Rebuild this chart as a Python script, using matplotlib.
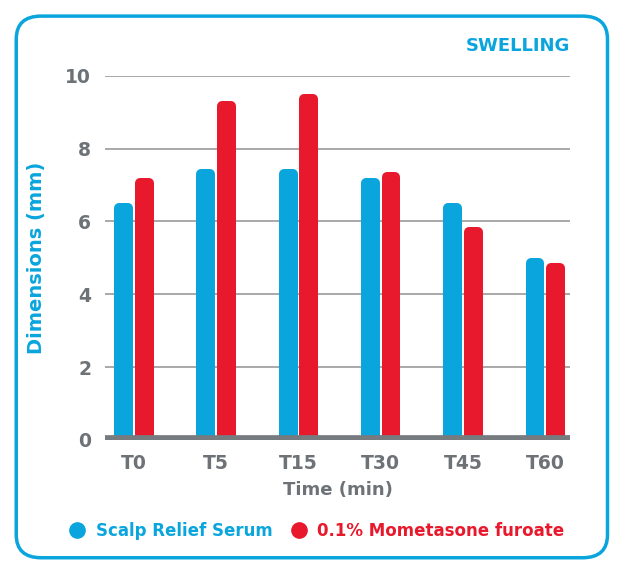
import matplotlib.pyplot as plt
from matplotlib.patches import FancyBboxPatch
from matplotlib.lines import Line2D

# --- data ---
categories = ["T0", "T5", "T15", "T30", "T45", "T60"]
scalp_relief = [6.5, 7.45, 7.45, 7.2, 6.5, 5.0]
mometasone = [7.2, 9.3, 9.5, 7.35, 5.85, 4.85]
series_names = ["Scalp Relief Serum", "0.1% Mometasone furoate"]

BLUE = "#0aa5dd"
RED = "#e8192c"
GRAY = "#6d7277"

fig = plt.figure(figsize=(6.25, 5.75), dpi=100)
plt.rcParams['font.family'] = ['DejaVu Sans']

# rounded frame around the whole chart
frame = FancyBboxPatch((0.026, 0.03), 0.946, 0.942,
                       boxstyle="round,pad=0,rounding_size=0.04",
                       transform=fig.transFigure, fill=False,
                       edgecolor=BLUE, linewidth=2.5)
fig.patches.append(frame)

ax = fig.add_axes([0.168, 0.235, 0.744, 0.633])
ax.set_xlim(-0.35, 5.3)
ax.set_ylim(0, 10)

# bars: plain bar plus a narrow round-capped line on top for soft corners
bw = 0.23
off = 0.125
px_per_unit = 0.633 * 575 / 10
cap = 5 / px_per_unit
for i in range(len(categories)):
    for x, v, c in ((i - off, scalp_relief[i], BLUE), (i + off, mometasone[i], RED)):
        ax.bar(x, v - cap, width=bw, color=c, zorder=3)
        ax.plot([x, x], [0, v - cap], color=c, linewidth=(bw * 82.3 - 10) * 0.72,
                solid_capstyle="round", zorder=3)
        ax.plot([x - bw / 2 + 5 / 82.3, x + bw / 2 - 5 / 82.3], [v - cap, v - cap],
                color=c, linewidth=7.2, solid_capstyle="round", zorder=3)

ax.set_yticks([0, 2, 4, 6, 8, 10])
ax.grid(axis="y", color="#9a9a9a", linewidth=1.2, zorder=0)
ax.axhline(0, color="#767b80", linewidth=7, zorder=4)
for s in ax.spines.values():
    s.set_visible(False)
ax.tick_params(length=0, labelsize=13.5, labelcolor=GRAY, pad=10)
ax.set_xticks(range(len(categories)))
ax.set_xticklabels(categories, fontweight="bold")
for t in ax.get_yticklabels():
    t.set_fontweight("bold")
ax.set_ylabel("Dimensions (mm)", color=BLUE, fontsize=14, fontweight="bold", labelpad=14)
ax.set_xlabel("Time (min)", color=GRAY, fontsize=13, fontweight="bold", labelpad=6)

fig.text(0.912, 0.92, "SWELLING", color=BLUE, fontsize=13, fontweight="bold", ha="right", va="center")

handles = [Line2D([], [], marker="o", linestyle="", markersize=11, color=c) for c in (BLUE, RED)]
leg = fig.legend(handles, series_names, loc="center", bbox_to_anchor=(0.5, 0.077), ncol=2,
                 frameon=False, handletextpad=0.1, columnspacing=0.6, fontsize=12)
for t, c in zip(leg.get_texts(), (BLUE, RED)):
    t.set_color(c)
    t.set_fontweight("bold")

fig.savefig("out.png", dpi=100)
